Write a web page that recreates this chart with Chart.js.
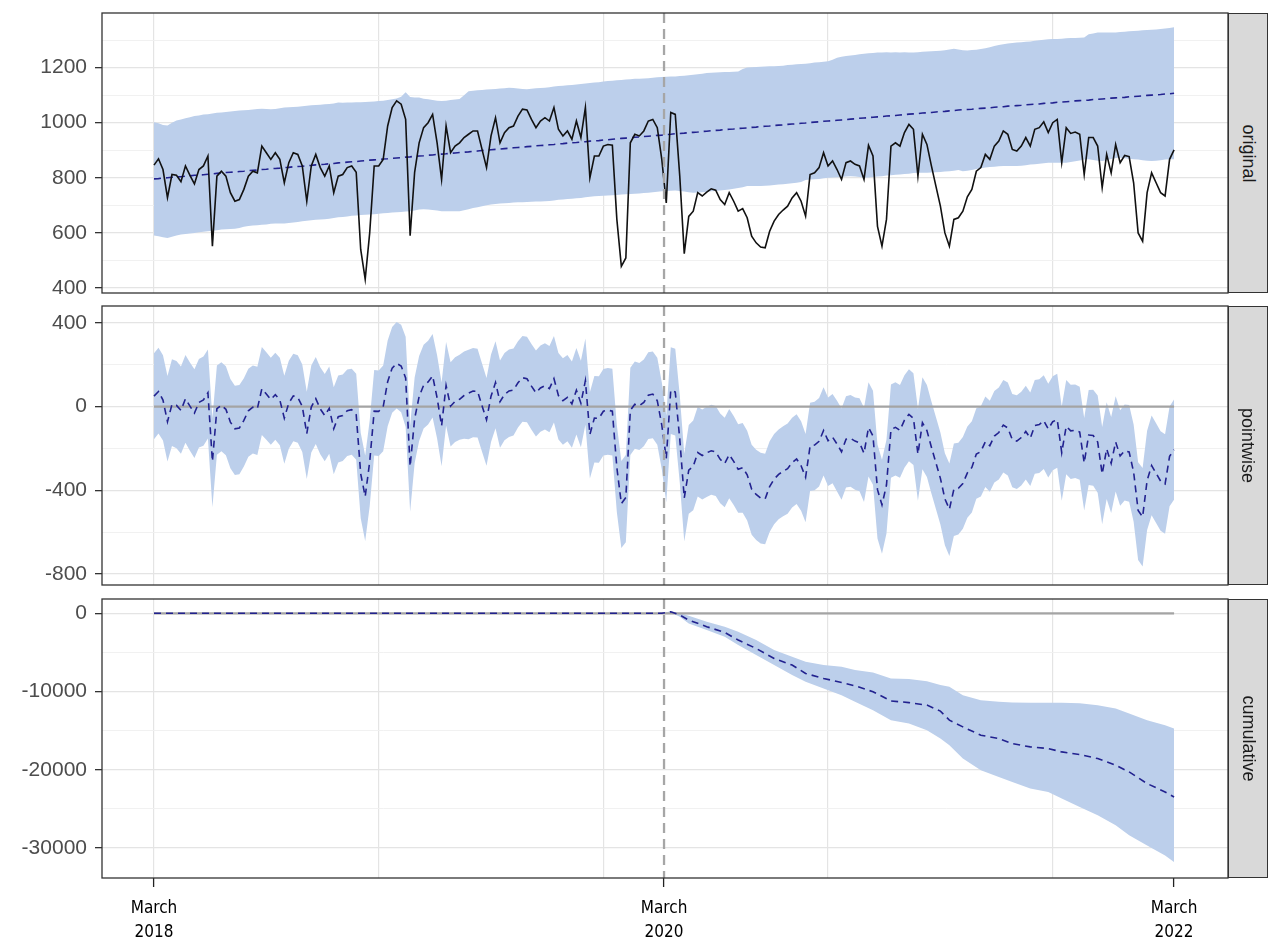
<!DOCTYPE html>
<html>
<head>
<meta charset="utf-8">
<script src="https://cdn.jsdelivr.net/npm/chart.js@4.4.0/dist/chart.umd.min.js"></script>
<style>
html,body{margin:0;padding:0;background:#fff;}
#wrap{position:relative;width:1270px;height:939px;overflow:hidden;background:#fff;}
.panel{position:absolute;left:0;width:1270px;}
.panel canvas{display:block;}
.strip{position:absolute;left:1228px;width:40px;background:#d9d9d9;border:1px solid #333;box-sizing:border-box;display:flex;align-items:center;justify-content:center;}
.strip span{display:block;transform:rotate(90deg);white-space:nowrap;font-family:'Liberation Sans',Arial,sans-serif;font-size:18px;color:#1a1a1a;}
</style>
</head>
<body>
<div id="wrap">
  <div class="panel" style="top:0;height:300px"><canvas id="c1" width="1270" height="300"></canvas></div>
  <div class="panel" style="top:300px;height:292px"><canvas id="c2" width="1270" height="292"></canvas></div>
  <div class="panel" style="top:592px;height:347px"><canvas id="c3" width="1270" height="347"></canvas></div>
  <div class="strip" style="top:13px;height:280px"><span id="s1"></span></div>
  <div class="strip" style="top:306px;height:279px"><span id="s2"></span></div>
  <div class="strip" style="top:599px;height:279px"><span id="s3"></span></div>
</div>
<script>
// ---------------- data ----------------
const observed = [
  846, 869, 830, 728, 812, 809, 786, 843, 809, 778,
  830, 843, 879, 552, 806, 824, 806, 746, 715, 721,
  758, 806, 824, 818, 915, 891, 867, 891, 867, 782,
  855, 891, 885, 843, 715, 843, 885, 837, 806, 843,
  746, 806, 812, 837, 843, 820, 540, 432, 600, 843,
  843, 867, 988, 1055, 1079, 1067, 1012, 590, 820, 927,
  982, 1000, 1030, 927, 794, 988, 891, 915, 927, 946,
  958, 970, 970, 903, 837, 952, 1018, 927, 964, 982,
  988, 1024, 1049, 1046, 1012, 982, 1006, 1018, 1006, 1055,
  976, 952, 970, 940, 1006, 946, 1055, 800, 879, 879,
  915, 921, 918, 649, 479, 509, 927, 958, 952, 970,
  1006, 1012, 982, 867, 709, 1037, 1030, 806, 525, 660,
  679, 746, 734, 748, 760, 755, 721, 703, 746, 715,
  679, 688, 655, 588, 564, 549, 546, 606, 643, 667,
  683, 697, 727, 746, 715, 661, 812, 818, 837, 891,
  843, 861, 830, 794, 855, 861, 849, 843, 794, 918,
  879, 624, 552, 649, 915, 927, 915, 964, 994, 976,
  806, 958, 921, 843, 770, 697, 600, 552, 649, 655,
  679, 731, 758, 824, 837, 885, 867, 915, 933, 970,
  958, 903, 897, 915, 946, 915, 976, 982, 1003, 964,
  1000, 1012, 855, 982, 961, 966, 958, 812, 946, 946,
  915, 764, 885, 818, 921, 855, 881, 877, 782, 600,
  570, 746, 818, 782, 746, 734, 867, 901
];
const predMean = [
  796, 797, 799, 800, 802, 803, 804, 806, 807, 809,
  810, 811, 813, 814, 816, 817, 819, 820, 821, 823,
  824, 826, 827, 828, 830, 831, 833, 834, 835, 837,
  838, 840, 841, 842, 844, 845, 847, 848, 849, 851,
  852, 854, 855, 857, 858, 859, 861, 862, 864, 865,
  866, 868, 869, 871, 872, 873, 875, 876, 878, 879,
  880, 882, 883, 885, 886, 887, 889, 890, 892, 893,
  894, 896, 897, 899, 900, 902, 903, 904, 906, 907,
  909, 910, 911, 913, 914, 916, 917, 918, 920, 921,
  923, 924, 926, 927, 928, 930, 931, 933, 934, 935,
  937, 938, 940, 941, 943, 944, 945, 947, 948, 950,
  951, 952, 954, 955, 957, 958, 960, 961, 962, 964,
  965, 966, 968, 969, 971, 972, 973, 975, 976, 977,
  979, 980, 981, 983, 984, 986, 987, 988, 990, 991,
  992, 994, 995, 996, 998, 999, 1001, 1002, 1003, 1005,
  1006, 1007, 1009, 1010, 1011, 1013, 1014, 1016, 1017, 1018,
  1020, 1021, 1022, 1024, 1025, 1026, 1028, 1029, 1031, 1032,
  1033, 1035, 1036, 1037, 1039, 1040, 1041, 1043, 1044, 1046,
  1047, 1048, 1049, 1051, 1052, 1053, 1054, 1056, 1057, 1058,
  1060, 1061, 1062, 1063, 1065, 1066, 1067, 1068, 1070, 1071,
  1072, 1074, 1075, 1076, 1077, 1079, 1080, 1081, 1082, 1084,
  1085, 1086, 1087, 1089, 1090, 1091, 1092, 1094, 1095, 1096,
  1097, 1099, 1100, 1101, 1102, 1104, 1105, 1107
];
const predUpper = [
  1002, 998, 992, 990, 1000, 1008, 1012, 1016, 1020, 1024,
  1026, 1030, 1031, 1033, 1036, 1037, 1039, 1041, 1042, 1044,
  1045, 1046, 1048, 1050, 1051, 1050, 1049, 1050, 1052, 1055,
  1056, 1057, 1058, 1060, 1061, 1063, 1064, 1065, 1067, 1068,
  1070, 1073, 1072, 1073, 1073, 1074, 1074, 1075, 1076, 1077,
  1079, 1080, 1082, 1085, 1088, 1094, 1110, 1093, 1091, 1091,
  1087, 1085, 1082, 1080, 1079, 1080, 1082, 1084, 1086, 1100,
  1114, 1116, 1118, 1119, 1120, 1121, 1122, 1124, 1125, 1127,
  1126, 1124, 1122, 1121, 1123, 1125, 1126, 1127, 1129, 1131,
  1133, 1134, 1136, 1137, 1139, 1140, 1142, 1144, 1146, 1147,
  1149, 1151, 1152, 1154, 1155, 1157, 1158, 1159, 1159, 1160,
  1161, 1163, 1165, 1166, 1167, 1168, 1168, 1169, 1170, 1172,
  1174, 1176, 1178, 1180, 1181, 1182, 1183, 1184, 1184, 1185,
  1186, 1195, 1200, 1201, 1202, 1203, 1204, 1205, 1205, 1206,
  1207, 1209, 1210, 1212, 1213, 1214, 1216, 1218, 1219, 1221,
  1223, 1228, 1236, 1239, 1242, 1244, 1246, 1248, 1250, 1252,
  1253, 1255, 1255, 1256, 1255, 1256, 1255, 1256, 1255, 1255,
  1256, 1257, 1258, 1259, 1260, 1261, 1263, 1266, 1268, 1266,
  1263, 1262, 1264, 1265, 1267, 1270, 1274, 1278, 1282, 1285,
  1287, 1289, 1291, 1292, 1294, 1295, 1297, 1299, 1301, 1303,
  1304, 1304, 1305, 1306, 1307, 1307, 1308, 1309, 1321, 1324,
  1327, 1327, 1327, 1327, 1327, 1329, 1330, 1332, 1333, 1334,
  1335, 1336, 1337, 1338, 1340, 1342, 1344, 1346
];
const predLower = [
  591, 588, 584, 582, 586, 591, 594, 596, 598, 600,
  602, 604, 606, 608, 610, 612, 613, 614, 615, 618,
  622, 625, 627, 628, 630, 631, 633, 634, 634, 634,
  636, 638, 640, 642, 644, 646, 648, 649, 650, 651,
  654, 657, 658, 660, 662, 663, 665, 666, 667, 668,
  670, 671, 672, 674, 675, 676, 678, 679, 681, 685,
  686, 685, 683, 681, 679, 679, 679, 679, 679, 682,
  686, 690, 693, 697, 700, 703, 705, 707, 708, 709,
  710, 711, 711, 712, 713, 714, 714, 715, 716, 718,
  720, 721, 723, 724, 726, 727, 729, 731, 733, 734,
  735, 736, 737, 738, 739, 740, 741, 742, 743, 745,
  746, 748, 749, 751, 752, 753, 754, 752, 750, 748,
  746, 747, 748, 749, 751, 752, 754, 756, 758, 760,
  763, 766, 770, 770, 770, 770, 771, 772, 774, 776,
  777, 778, 780, 782, 785, 792, 794, 795, 796, 798,
  800, 801, 802, 803, 805, 806, 805, 803, 800, 801,
  803, 805, 806, 808, 809, 811, 812, 814, 815, 817,
  818, 818, 818, 819, 820, 821, 823, 824, 826, 828,
  824, 826, 828, 832, 835, 837, 839, 840, 842, 843,
  843, 843, 843, 844, 846, 848, 849, 851, 853, 855,
  855, 855, 855, 855, 857, 860, 863, 866, 867, 865,
  862, 861, 864, 868, 872, 873, 871, 869, 867, 866,
  864, 862, 861, 862, 864, 866, 867, 867
];
// cumulative effect (read at these time indices)
const cumIndex = [0, 113, 114, 115, 117, 119, 123, 127, 130, 134, 138, 142, 145, 149, 153, 156, 160, 164, 168, 172, 175, 177, 180, 184, 188, 191, 195, 199, 202, 206, 210, 214, 217, 221, 225, 227];
const cumMean  = [0, 0, 100, 200, -220, -860, -1710, -2440, -3420, -4490, -5770, -6620, -7690, -8330, -8840, -9270, -10030, -11200, -11420, -11740, -12500, -13660, -14520, -15580, -16010, -16650, -17080, -17290, -17720, -18060, -18570, -19420, -20280, -21770, -22840, -23480];
const cumUpper = [0, 0, 150, 260, 0, -300, -1070, -1710, -2350, -3420, -4700, -5550, -6190, -6620, -6830, -7260, -7560, -8330, -8410, -8670, -9180, -9400, -10460, -11100, -11310, -11400, -11440, -11440, -11440, -11500, -11740, -12170, -12810, -13660, -14300, -14730];
const cumLower = [0, 0, 50, 120, -450, -1290, -2140, -2990, -4060, -5340, -6620, -7900, -8750, -9610, -10460, -11320, -12380, -13660, -14090, -14940, -16010, -16860, -18570, -20060, -20920, -21560, -22410, -22840, -23690, -24760, -25830, -27110, -28390, -29670, -30950, -31800];

const interventionIndex = 113.5;
const zeroLine = [0, 0];
const xGridIndex = [0, 50, 100, 150, 200];
const xLabelIndex = [0, 113.5, 227];
const xLabelText = [['March', '2018'], ['March', '2020'], ['March', '2022']];
const origGrid = [400, 500, 600, 700, 800, 900, 1000, 1100, 1200, 1300];
const origTicks = [400, 600, 800, 1000, 1200];
const pointGrid = [-800, -600, -400, -200, 0, 200, 400];
const pointTicks = [-800, -400, 0, 400];
const cumGrid = [-30000, -25000, -20000, -15000, -10000, -5000, 0];
const cumTicks = [-30000, -20000, -10000, 0];
const stripLabels = ['original', 'pointwise', 'cumulative'];

// ---------------- derived tables ----------------
const idx = observed.map((_, i) => i);
const pts = (xs, ys) => ys.map((y, k) => ({ x: xs[k], y: y }));
const pointMean = observed.map((v, i) => v - predMean[i]);
const pointLower = observed.map((v, i) => v - predUpper[i]);
const pointUpper = observed.map((v, i) => v - predLower[i]);
const zeroX = [idx[0], idx[idx.length - 1]];

// ---------------- styles ----------------
const BAND = '#bccfeb';
const DARKBLUE = '#22228f';
const ZERO = '#a4a4a4';
const GRID_MAJOR = '#e4e4e4';
const GRID_MINOR = '#efefef';
const X_MIN = -11.57, X_MAX = 239.0;
const CLEAR = 'rgba(0,0,0,0)';

document.getElementById('s1').textContent = stripLabels[0];
document.getElementById('s2').textContent = stripLabels[1];
document.getElementById('s3').textContent = stripLabels[2];

const interventionPlugin = {
  id: 'intervention',
  afterDatasetsDraw(chart) {
    const a = chart.chartArea, x = chart.scales.x, ctx = chart.ctx;
    const px = x.getPixelForValue(interventionIndex);
    ctx.save();
    ctx.strokeStyle = '#a6a6a6';
    ctx.lineWidth = 2.3;
    ctx.setLineDash([10, 6]);
    ctx.beginPath();
    ctx.moveTo(px, a.top);
    ctx.lineTo(px, a.bottom);
    ctx.stroke();
    ctx.restore();
  }
};
const borderPlugin = {
  id: 'panelBorder',
  afterDraw(chart) {
    const a = chart.chartArea, ctx = chart.ctx;
    ctx.save();
    ctx.strokeStyle = '#333';
    ctx.lineWidth = 1.3;
    ctx.strokeRect(a.left, a.top, a.right - a.left, a.bottom - a.top);
    ctx.restore();
  }
};

function xScale(showLabels) {
  const all = showLabels ? Array.from(new Set(xGridIndex.concat(xLabelIndex))).sort((a, b) => a - b) : xGridIndex.slice();
  return {
    type: 'linear', min: X_MIN, max: X_MAX,
    afterBuildTicks: s => { s.ticks = all.map(v => ({ value: v })); },
    afterFit: s => { s.height = showLabels ? 61 : 0; s.paddingLeft = 0; s.paddingRight = 0; },
    ticks: {
      display: showLabels, autoSkip: false, maxRotation: 0, minRotation: 0, padding: 10,
      color: '#000',
      font: { family: "'Liberation Sans Narrow', 'DejaVu Sans Condensed', 'Liberation Sans', sans-serif", size: 17, lineHeight: 1.4 },
      callback: v => { const k = xLabelIndex.indexOf(v); return k >= 0 ? xLabelText[k] : ''; }
    },
    grid: {
      drawTicks: showLabels, tickLength: 9, tickWidth: 1.3,
      color: c => xGridIndex.includes(c.tick.value) ? GRID_MAJOR : CLEAR,
      lineWidth: 1.2,
      tickColor: c => xLabelIndex.includes(c.tick.value) ? '#222' : CLEAR
    },
    border: { display: false }
  };
}
function yScale(min, max, gridVals, labelVals) {
  return {
    type: 'linear', min: min, max: max,
    afterBuildTicks: s => { s.ticks = gridVals.map(v => ({ value: v })); },
    afterFit: s => { s.width = 102; s.paddingTop = 0; s.paddingBottom = 0; },
    ticks: {
      autoSkip: false, padding: 8, color: '#4d4d4d',
      font: { family: "'Liberation Sans', Arial, sans-serif", size: 21 },
      callback: v => labelVals.includes(v) ? String(v) : ''
    },
    grid: {
      tickLength: 7, tickWidth: 1.3,
      color: c => labelVals.includes(c.tick.value) ? GRID_MAJOR : GRID_MINOR,
      lineWidth: c => labelVals.includes(c.tick.value) ? 1.3 : 0.9,
      tickColor: c => labelVals.includes(c.tick.value) ? '#333' : CLEAR
    },
    border: { display: false }
  };
}
function bandSets(upper, lower, xs) {
  return [
    { data: pts(xs, upper), fill: '+1', backgroundColor: BAND, borderColor: CLEAR, borderWidth: 0, pointRadius: 0, order: 5 },
    { data: pts(xs, lower), fill: false, backgroundColor: BAND, borderColor: CLEAR, borderWidth: 0, pointRadius: 0, order: 5 }
  ];
}
function dashed(ys, xs) {
  return { data: pts(xs, ys), borderColor: DARKBLUE, borderWidth: 1.6, borderDash: [7, 5], pointRadius: 0, fill: false, order: 2 };
}
function zeroSet() {
  return { data: pts(zeroX, zeroLine), borderColor: ZERO, borderWidth: 2.2, pointRadius: 0, fill: false, order: 3 };
}
function makeChart(id, datasets, yOpts, showX, pad) {
  return new Chart(document.getElementById(id), {
    type: 'line',
    data: { datasets: datasets },
    options: {
      responsive: false, animation: false, events: [],
      parsing: true, normalized: true,
      layout: { padding: pad },
      elements: { line: { tension: 0 } },
      plugins: { legend: { display: false }, tooltip: { enabled: false }, title: { display: false } },
      scales: { x: xScale(showX), y: yOpts }
    },
    plugins: [interventionPlugin, borderPlugin]
  });
}

makeChart('c1',
  bandSets(predUpper, predLower, idx).concat([
    dashed(predMean, idx),
    { data: pts(idx, observed), borderColor: '#111', borderWidth: 1.6, pointRadius: 0, fill: false, order: 1 }
  ]),
  yScale(382, 1398, origGrid, origTicks), false,
  { top: 13, right: 42, bottom: 7, left: 0 });

makeChart('c2',
  bandSets(pointUpper, pointLower, idx).concat([zeroSet(), dashed(pointMean, idx)]),
  yScale(-853, 481, pointGrid, pointTicks), false,
  { top: 6, right: 42, bottom: 7, left: 0 });

makeChart('c3',
  bandSets(cumUpper, cumLower, cumIndex).concat([zeroSet(), dashed(cumMean, cumIndex)]),
  yScale(-33840, 1830, cumGrid, cumTicks), true,
  { top: 7, right: 42, bottom: 0, left: 0 });
</script>
</body>
</html>
